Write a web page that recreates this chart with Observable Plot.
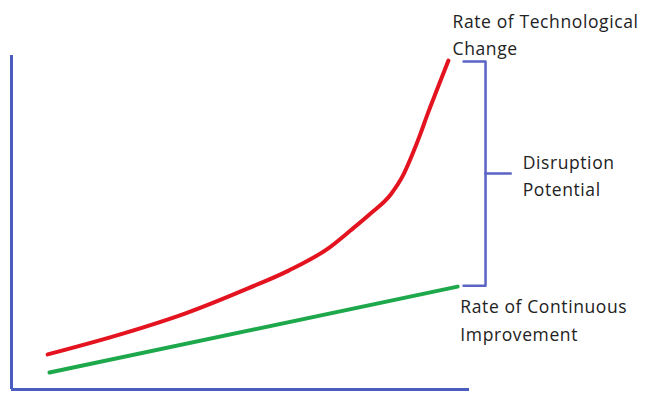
<!DOCTYPE html>
<html>
<head>
<meta charset="utf-8">
<script src="https://cdn.jsdelivr.net/npm/d3@7"></script>
<script src="https://cdn.jsdelivr.net/npm/@observablehq/plot@0.6"></script>
<style>
  html, body { margin: 0; padding: 0; background: #fff; }
  svg { overflow: visible; }
  svg text { letter-spacing: 0.6px; }
</style>
</head>
<body>
<div id="chart"></div>
<script>
// Rate of technological change (red curve)
const techX = [7.9, 24.5, 38, 51.5, 60.5, 69.4, 74.0, 78.4, 82.8, 85.6, 87.8, 89.3, 90.8, 93.0, 95.4];
const techY = [10.5, 16.8, 22.8, 30.2, 35.6, 42.5, 47.6, 52.7, 58.4, 64.4, 71.3, 76.6, 82.3, 90.1, 98.5];
// Rate of continuous improvement (green line)
const contX = [8.3, 97.4];
const contY = [5.1, 30.8];
// Disruption potential bracket
const bracketX = [98.7, 103.5, 103.5, 98.7];
const bracketY = [98.2, 98.2, 31.1, 31.1];
const bracketTickX = [103.5, 109];
const bracketTickY = [64.7, 64.7];
// Labels
const labelText = ["Rate of Technological\nChange", "Disruption\nPotential", "Rate of Continuous\nImprovement"];
const labelX = [96.3, 111.6, 98];
const labelY = [106.9, 64.7, 21.3];

const zip = (xs, ys) => xs.map((x, i) => ({x, y: ys[i]}));
const tech = zip(techX, techY);
const cont = zip(contX, contY);
const bracket = zip(bracketX, bracketY);
const bracketTick = zip(bracketTickX, bracketTickY);
const labels = labelText.map((t, i) => ({t, x: labelX[i], y: labelY[i]}));

const axisColor = "#4b5dc0";

const chart = Plot.plot({
  width: 645,
  height: 394,
  marginLeft: 11,
  marginRight: 176,
  marginTop: 55,
  marginBottom: 5,
  x: {domain: [0, 100], axis: null},
  y: {domain: [0, 100], axis: null},
  style: {fontFamily: "'Open Sans', Lato, sans-serif", background: "#fff"},
  marks: [
    Plot.ruleX([0], {y1: 0, y2: 100, stroke: axisColor, strokeWidth: 3}),
    Plot.ruleY([0], {x1: 0, x2: 100, stroke: axisColor, strokeWidth: 3}),
    Plot.line(cont, {x: "x", y: "y", stroke: "#1ea84c", strokeWidth: 4}),
    Plot.line(tech, {x: "x", y: "y", stroke: "#e3141f", strokeWidth: 4, curve: "monotone-x"}),
    Plot.line(bracket, {x: "x", y: "y", stroke: "#5a64c6", strokeWidth: 2.5}),
    Plot.line(bracketTick, {x: "x", y: "y", stroke: "#5a64c6", strokeWidth: 2.5}),
    Plot.text(labels, {x: "x", y: "y", text: "t", textAnchor: "start", fontSize: 17.5, lineHeight: 1.55, fill: "#222"})
  ]
});
document.getElementById("chart").appendChild(chart);
</script>
</body>
</html>
